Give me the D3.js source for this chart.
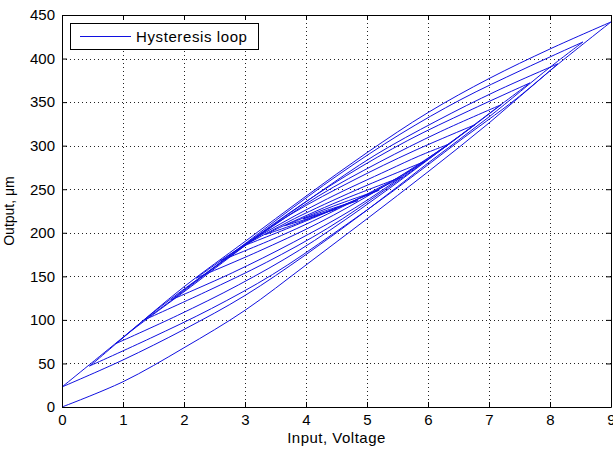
<!DOCTYPE html>
<html>
<head>
<meta charset="utf-8">
<script src="https://cdn.jsdelivr.net/npm/d3@7"></script>
<style>
  body { margin: 0; background: #fff; }
  text { font-family: "Liberation Sans", Arial, sans-serif; fill: #000; }
</style>
</head>
<body>
<div id="chart"></div>
<script>
// axis ticks
var xTicks = [0, 1, 2, 3, 4, 5, 6, 7, 8, 9];
var yTicks = [0, 50, 100, 150, 200, 250, 300, 350, 400, 450];

// hysteresis path (input in volts, output in um),
// one continuous run: up, down, up, down ... shrinking towards the middle
var loopX = [
  0, 1, 2, 3, 4, 5, 6, 7, 8, 9,
  8, 7, 6, 5, 4, 3, 2, 1, 0,
  1, 2, 3, 4, 5, 6, 7, 8, 8.54,
  7.54, 6.54, 5.54, 4.54, 3.54, 2.54, 1.54, 0.54, 0.45,
  1.45, 2.45, 3.45, 4.45, 5.45, 6.45, 7.45, 8.13,
  7.13, 6.13, 5.13, 4.13, 3.13, 2.13, 1.13, 0.89,
  1.89, 2.89, 3.89, 4.89, 5.89, 6.89, 7.67,
  6.67, 5.67, 4.67, 3.67, 2.67, 1.67, 1.35,
  2.35, 3.35, 4.35, 5.35, 6.35, 7.2,
  6.2, 5.2, 4.2, 3.2, 2.2, 1.79,
  2.79, 3.79, 4.79, 5.79, 6.77,
  5.77, 4.77, 3.77, 2.77, 2.2,
  3.2, 4.2, 5.2, 6.2, 6.35,
  5.85, 5.35, 4.35, 3.35, 2.6,
  3.6, 4.6, 5.6, 5.95,
  4.95, 3.95, 3.45, 2.98,
  3.98, 4.98, 5.57,
  4.57, 3.57, 3.33,
  3.83, 4.33, 4.83, 5.2,
  4.7, 4.2, 3.65,
  4.15, 4.65, 4.85,
  4.35, 3.95,
  4.25, 4.5
];
var loopY = [
  0, 29, 68, 111, 163, 216, 270, 326, 386, 442,
  411, 377, 338, 292, 242, 190, 138, 80, 23,
  54, 89, 128, 175, 226, 280, 333, 390, 419,
  387, 353, 313, 267, 216, 163, 111, 52, 47,
  79, 113, 152, 199, 249, 302, 354, 394,
  363, 328, 289, 242, 192, 139, 87, 73,
  105, 140, 180, 227, 278, 331, 372,
  340, 306, 266, 220, 169, 116, 100,
  132, 166, 205, 252, 302, 347,
  316, 281, 242, 195, 145, 123,
  154, 189, 228, 275, 324,
  294, 260, 222, 176, 148,
  178, 211, 250, 295, 302,
  288, 272, 239, 201, 168,
  197, 230, 267, 282,
  253, 221, 203, 185,
  213, 243, 264,
  237, 206, 198,
  210, 224, 238, 249,
  237, 224, 208,
  219, 232, 237,
  226, 216,
  222, 227
];

var legendLabel = "Hysteresis loop";

var width = 613;
var height = 451;
var padLeft = 62, padRight = 611, padTop = 15, padBottom = 407;

var svg = d3.select("#chart")
  .append("svg")
  .attr("width", width)
  .attr("height", height);

svg.append("rect").attr("width", width).attr("height", height).attr("fill", "#fff");

var xScale = d3.scaleLinear().domain([0, 9]).range([padLeft, padRight]);
var yScale = d3.scaleLinear().domain([0, 450]).range([padBottom, padTop]);

// dotted grid
svg.append("g").selectAll("line")
  .data(xTicks.slice(1, -1))
  .enter().append("line")
  .attr("x1", function(d) { return Math.round(xScale(d)) + 0.5; })
  .attr("x2", function(d) { return Math.round(xScale(d)) + 0.5; })
  .attr("y1", padTop)
  .attr("y2", padBottom)
  .attr("stroke", "#222")
  .attr("stroke-dasharray", "1,3");

svg.append("g").selectAll("line")
  .data(yTicks.slice(1, -1))
  .enter().append("line")
  .attr("y1", function(d) { return Math.round(yScale(d)) + 0.5; })
  .attr("y2", function(d) { return Math.round(yScale(d)) + 0.5; })
  .attr("x1", padLeft)
  .attr("x2", padRight)
  .attr("stroke", "#222")
  .attr("stroke-dasharray", "1,3");

// split the run into branches where it turns back
var pts = loopX.map(function(x, i) { return [x, loopY[i]]; });
var branches = [];
var cur = [pts[0]];
var dir = 0;
for (var i = 1; i < pts.length; i++) {
  var d = Math.sign(pts[i][0] - pts[i - 1][0]);
  if (dir !== 0 && d !== dir) {
    branches.push(cur);
    cur = [pts[i - 1]];
  }
  cur.push(pts[i]);
  dir = d;
}
branches.push(cur);

var line = d3.line()
  .x(function(d) { return xScale(d[0]); })
  .y(function(d) { return yScale(d[1]); })
  .curve(d3.curveCatmullRom);

svg.append("clipPath").attr("id", "plotClip")
  .append("rect")
  .attr("x", padLeft).attr("y", padTop)
  .attr("width", padRight - padLeft).attr("height", padBottom - padTop);

svg.append("g")
  .attr("clip-path", "url(#plotClip)")
  .selectAll("path")
  .data(branches)
  .enter().append("path")
  .attr("d", line)
  .attr("fill", "none")
  .attr("stroke", "#1010e0")
  .attr("stroke-width", 1);

// axes, ticks inside on all four sides
var xAxis = d3.axisBottom(xScale).tickValues(xTicks).tickSizeInner(-5).tickSizeOuter(0).tickPadding(7);
var yAxis = d3.axisLeft(yScale).tickValues(yTicks).tickSizeInner(-5).tickSizeOuter(0).tickPadding(7);

svg.append("g")
  .attr("class", "xAxis")
  .attr("transform", "translate(0," + padBottom + ")")
  .call(xAxis);
svg.append("g")
  .attr("class", "yAxis")
  .attr("transform", "translate(" + padLeft + ",0)")
  .call(yAxis);
svg.append("g")
  .attr("transform", "translate(0," + padTop + ")")
  .call(d3.axisTop(xScale).tickValues(xTicks).tickSizeInner(-5).tickSizeOuter(0).tickFormat(""));
svg.append("g")
  .attr("transform", "translate(" + padRight + ",0)")
  .call(d3.axisRight(yScale).tickValues(yTicks).tickSizeInner(-5).tickSizeOuter(0).tickFormat(""));

svg.selectAll(".domain").attr("stroke", "#000");
svg.selectAll(".tick line").attr("stroke", "#000");
svg.selectAll(".tick text")
  .attr("font-size", 15)
  .attr("font-family", "Liberation Sans, Arial, sans-serif")
  .attr("fill", "#000");

// axis labels
svg.append("text")
  .attr("x", (padLeft + padRight) / 2)
  .attr("y", 443)
  .attr("text-anchor", "middle")
  .attr("font-size", 15)
  .attr("letter-spacing", 0.5)
  .text("Input, Voltage");

svg.append("text")
  .attr("transform", "translate(14," + ((padTop + padBottom) / 2) + ")rotate(-90)")
  .attr("text-anchor", "middle")
  .attr("font-size", 14)
  .text("Output, \u03bcm");

// legend
var lg = svg.append("g");
lg.append("rect")
  .attr("x", 70.5).attr("y", 23.5)
  .attr("width", 188).attr("height", 26)
  .attr("fill", "#fff")
  .attr("stroke", "#000");
lg.append("line")
  .attr("x1", 80).attr("x2", 131)
  .attr("y1", 36.5).attr("y2", 36.5)
  .attr("stroke", "#1010e0");
lg.append("text")
  .attr("x", 136).attr("y", 42)
  .attr("font-size", 15)
  .attr("letter-spacing", 0.6)
  .text(legendLabel);
</script>
</body>
</html>
